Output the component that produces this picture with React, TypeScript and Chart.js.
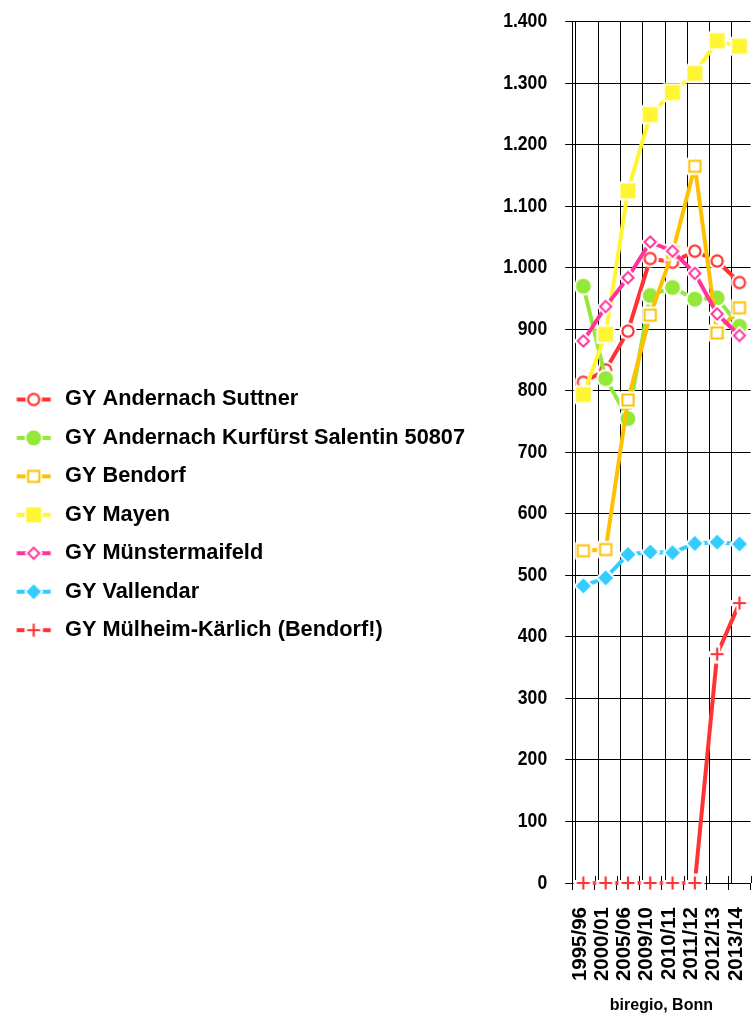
import React, { useEffect, useRef } from 'react';
import { Chart, registerables } from 'chart.js';

Chart.register(...registerables);

// ---------- data ----------
const categories = ['1995/96', '2000/01', '2005/06', '2009/10', '2010/11', '2011/12', '2012/13', '2013/14'];
const seriesNames = [
  'GY Andernach Suttner',
  'GY Andernach Kurfürst Salentin 50807',
  'GY Bendorf',
  'GY Mayen',
  'GY Münstermaifeld',
  'GY Vallendar',
  'GY Mülheim-Kärlich (Bendorf!)',
];
const suttner = [814, 834, 897, 1015, 1009, 1027, 1011, 976];
const kurfuerst = [970, 820, 755, 955, 968, 949, 951, 905];
const bendorf = [540, 542, 785, 923, 1025, 1165, 894, 935];
const mayen = [794, 892, 1125, 1249, 1285, 1316, 1369, 1360];
const muenstermaifeld = [881, 937, 984, 1042, 1027, 991, 925, 890];
const vallendar = [483, 496, 534, 538, 537, 552, 554, 551];
const muelheim = [0, 0, 0, 0, 0, 0, 372, 455];
const yMin = 0;
const yMax = 1400;
const yStep = 100;
const axisTitle = 'biregio, Bonn';

const seriesValues = [suttner, kurfuerst, bendorf, mayen, muenstermaifeld, vallendar, muelheim];

// ---------- styles ----------
const seriesColors = ['#ff3333', '#94e83a', '#ffc000', '#fff533', '#ff3399', '#33ccff', '#ff3333'];
const seriesMarkers = ['circleOpen', 'circleFilled', 'squareOpen', 'squareFilled', 'diamondOpen', 'diamondFilled', 'cross'];

const W = 753;
const H = 1021;
const PLOT_LEFT = 572.2;
const PLOT_TOP = 21.7;
const PLOT_BOTTOM = 883;
const PLOT_RIGHT = 750.6;
const GRID_SHIFT = 0.165; // vertical grid lines sit a bit right of the category boundaries
const Y_TICK_LEN = 7;
const Y_LABEL_PAD = 18;

const FONT = "'Liberation Sans', Arial, sans-serif";

function drawMarker(ctx: CanvasRenderingContext2D, kind: string, color: string, cx: number, cy: number, halo: number) {
  ctx.save();
  ctx.fillStyle = '#ffffff';
  ctx.strokeStyle = '#ffffff';
  const circle = (r: number) => { ctx.beginPath(); ctx.arc(cx, cy, r, 0, Math.PI * 2); };
  const square = (h: number) => { ctx.beginPath(); ctx.rect(cx - h, cy - h, 2 * h, 2 * h); };
  const diamond = (h: number) => {
    ctx.beginPath();
    ctx.moveTo(cx, cy - h); ctx.lineTo(cx + h, cy); ctx.lineTo(cx, cy + h); ctx.lineTo(cx - h, cy);
    ctx.closePath();
  };
  switch (kind) {
    case 'circleOpen':
      circle(6.7 + halo); ctx.fill();
      circle(5.6); ctx.fill();
      ctx.lineWidth = 2.2; ctx.strokeStyle = color; ctx.stroke();
      break;
    case 'circleFilled':
      circle(7.5 + halo); ctx.fill();
      circle(7.5); ctx.fillStyle = color; ctx.fill();
      break;
    case 'squareOpen':
      square(6.6 + halo); ctx.fill();
      square(5.6); ctx.fill();
      ctx.lineWidth = 2; ctx.strokeStyle = color; ctx.stroke();
      break;
    case 'squareFilled':
      square(7.5 + halo); ctx.fill();
      square(7.5); ctx.fillStyle = color; ctx.fill();
      break;
    case 'diamondOpen':
      diamond(7 + halo * 1.4); ctx.fill();
      diamond(5.6); ctx.fill();
      ctx.lineWidth = 2; ctx.strokeStyle = color; ctx.stroke();
      break;
    case 'diamondFilled':
      diamond(7.5 + halo * 1.4); ctx.fill();
      diamond(7.5); ctx.fillStyle = color; ctx.fill();
      break;
    case 'cross': {
      const a = 6.5;
      ctx.lineCap = 'square';
      ctx.lineWidth = 2.2 + 2 * halo;
      ctx.beginPath();
      ctx.moveTo(cx - a, cy); ctx.lineTo(cx + a, cy);
      ctx.moveTo(cx, cy - a); ctx.lineTo(cx, cy + a);
      ctx.stroke();
      ctx.lineCap = 'butt';
      ctx.lineWidth = 2.2; ctx.strokeStyle = color;
      ctx.beginPath();
      ctx.moveTo(cx - a, cy); ctx.lineTo(cx + a, cy);
      ctx.moveTo(cx, cy - a); ctx.lineTo(cx, cy + a);
      ctx.stroke();
      break;
    }
  }
  ctx.restore();
}

function makePointCanvas(kind: string, color: string) {
  const c = document.createElement('canvas');
  c.width = 26; c.height = 26;
  const ctx = c.getContext('2d')!;
  drawMarker(ctx, kind, color, 13, 13, 2);
  return c;
}

const LEG_PAD = 16.7;
const LEG_BOX = 37.4;
function makeLegendCanvas(kind: string, color: string) {
  const c = document.createElement('canvas');
  c.width = 44; c.height = 24;
  const ctx = c.getContext('2d')!;
  const imgLeft = LEG_PAD + LEG_BOX / 2 - 22;
  ctx.strokeStyle = color;
  ctx.lineWidth = 4;
  ctx.beginPath();
  ctx.moveTo(16.7 - imgLeft, 12);
  ctx.lineTo(50.7 - imgLeft, 12);
  ctx.stroke();
  drawMarker(ctx, kind, color, 33.7 - imgLeft, 12, 1.6);
  return c;
}

function formatDE(v: number) {
  if (v >= 1000) {
    const t = Math.floor(v / 1000);
    const r = v % 1000;
    return `${t}.${String(r).padStart(3, '0')}`;
  }
  return String(v);
}

export default function App() {
  const ref = useRef<HTMLCanvasElement>(null);
  useEffect(() => {
    document.body.style.margin = '0';
    const canvas = ref.current!;
    const pointImgs = seriesColors.map((c, i) => makePointCanvas(seriesMarkers[i], c));
    const legendImgs = seriesColors.map((c, i) => makeLegendCanvas(seriesMarkers[i], c));
    const n = seriesValues.length;

    const innerTicks = {
      id: 'innerTicks',
      beforeDatasetsDraw(chart: any) {
        const x = chart.scales.x;
        const ctx = chart.ctx;
        const b = chart.chartArea.bottom;
        ctx.save();
        ctx.strokeStyle = '#000';
        ctx.lineWidth = 1;
        ctx.beginPath();
        for (let i = 0; i <= categories.length; i++) {
          const px = Math.round(x.getPixelForValue(i - 0.5)) + 0.5;
          ctx.moveTo(px, b - 7);
          ctx.lineTo(px, b);
        }
        ctx.stroke();
        ctx.restore();
      },
    };

    // condensed bold tick labels for the value axis
    const condensedYLabels = {
      id: 'condensedYLabels',
      afterDraw(chart: any) {
        const y = chart.scales.y;
        const ctx = chart.ctx;
        const xr = chart.chartArea.left - Y_TICK_LEN - Y_LABEL_PAD;
        ctx.save();
        ctx.fillStyle = '#000';
        ctx.font = `bold 20px ${FONT}`;
        ctx.textAlign = 'right';
        ctx.textBaseline = 'middle';
        y.ticks.forEach((t: any) => {
          const py = y.getPixelForValue(t.value);
          ctx.save();
          ctx.translate(xr, py);
          ctx.scale(0.88, 1);
          ctx.fillText(formatDE(t.value), 0, 0);
          ctx.restore();
        });
        ctx.restore();
      },
    };

    const chart = new Chart(canvas, {
      type: 'line',
      data: {
        labels: categories,
        datasets: seriesValues.map((d, i) => ({
          label: seriesNames[i],
          data: d,
          borderColor: seriesColors[i],
          backgroundColor: seriesColors[i],
          borderWidth: 4,
          pointStyle: pointImgs[i] as any,
          pointRadius: 6,
          pointHoverRadius: 6,
          tension: 0,
          clip: false as any,
          order: n - i,
          xAxisID: 'x',
          yAxisID: 'y',
        })),
      },
      options: {
        responsive: false,
        animation: false,
        events: [],
        layout: { autoPadding: false, padding: { top: 0, right: W - PLOT_RIGHT, bottom: 0, left: 0 } },
        plugins: {
          tooltip: { enabled: false },
          legend: {
            position: 'left',
            align: 'center',
            title: { display: true, text: '', font: { size: 1 }, padding: { top: 0, bottom: 7.4 } },
            labels: {
              usePointStyle: true,
              pointStyleWidth: LEG_BOX,
              padding: LEG_PAD,
              color: '#000',
              font: { family: FONT, size: 21.75, weight: 'bold' },
              generateLabels: () =>
                seriesNames.map((name, i) => ({
                  text: name,
                  pointStyle: legendImgs[i] as any,
                  fillStyle: 'rgba(0,0,0,0)',
                  strokeStyle: 'rgba(0,0,0,0)',
                  lineWidth: 0,
                  hidden: false,
                  datasetIndex: i,
                  fontColor: '#000',
                })),
            },
          } as any,
        },
        scales: {
          x: {
            type: 'category',
            position: 'bottom',
            offset: true,
            grid: { display: true, drawOnChartArea: false, drawTicks: true, tickLength: 7, offset: true, color: '#000', lineWidth: 1 },
            border: { display: true, color: '#000', width: 1 },
            ticks: {
              autoSkip: false,
              minRotation: 90,
              maxRotation: 90,
              padding: 17,
              labelOffset: -3.5,
              color: '#000',
              font: { family: FONT, size: 20.5, weight: 'bold' },
            },
            title: {
              display: true,
              text: axisTitle,
              color: '#000',
              font: { family: FONT, size: 16, weight: 'bold' },
              padding: { top: 0, bottom: 5.4 },
            },
            afterFit: (s: any) => {
              s.height = H - PLOT_BOTTOM;
              s.paddingLeft = 0;
              s.paddingRight = 0;
            },
          } as any,
          xg: {
            type: 'linear',
            position: 'bottom',
            min: -0.5,
            max: categories.length - 0.5,
            grid: { display: true, drawTicks: false, color: '#000', lineWidth: 1 },
            border: { display: false },
            ticks: { display: false },
            afterBuildTicks: (s: any) => {
              s.ticks = categories.map((_, i) => ({ value: i - 0.5 + GRID_SHIFT }));
            },
            afterFit: (s: any) => {
              s.height = 0;
              s.paddingLeft = 0;
              s.paddingRight = 0;
            },
          } as any,
          y: {
            type: 'linear',
            position: 'left',
            min: yMin,
            max: yMax,
            grid: { display: true, drawTicks: true, tickLength: Y_TICK_LEN, color: '#000', lineWidth: 1 },
            border: { display: true, color: '#000', width: 1 },
            ticks: {
              stepSize: yStep,
              display: false,
            },
            afterFit: (s: any) => {
              const lw = s.chart.legend ? s.chart.legend.width : 0;
              s.width = PLOT_LEFT - lw;
              s.paddingTop = PLOT_TOP;
              s.paddingBottom = 0;
            },
          } as any,
        },
      },
      plugins: [innerTicks, condensedYLabels],
    });

    // let the left legend be as wide as its longest entry
    const lg: any = (chart as any).legend;
    if (lg) {
      const origUpdate = lg.update.bind(lg);
      lg.update = (mw: number, mh: number, margins: any) => origUpdate(Math.max(mw, 600), mh, margins);
      chart.update();
    }
    return () => chart.destroy();
  }, []);
  return (
    <div style={{ position: 'fixed', left: 0, top: 0, width: W, height: H, overflow: 'hidden', background: '#fff' }}>
      <canvas ref={ref} width={W} height={H} style={{ display: 'block', width: W, height: H }} />
    </div>
  );
}
